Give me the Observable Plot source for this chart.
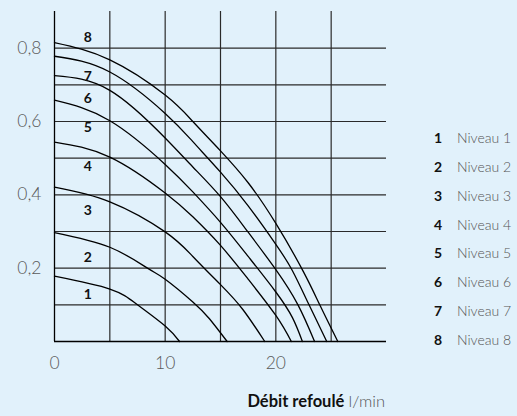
<!DOCTYPE html>
<html>
<head>
<meta charset="utf-8">
<script src="https://cdn.jsdelivr.net/npm/d3@7"></script>
<script src="https://cdn.jsdelivr.net/npm/@observablehq/plot@0.6"></script>
<style>
  html, body { margin: 0; padding: 0; background: #e1f1fb; }
  #wrap { position: relative; width: 517px; height: 416px; font-family: Lato, "Open Sans", sans-serif; }
  #xtitle { position: absolute; right: 132px; top: 391px; font-size: 16.5px; white-space: nowrap; }
  #xtitle b { font-weight: 700; color: #111; }
  #xtitle span { font-weight: 300; color: #555; }
  .leg { position: absolute; height: 18px; line-height: 18px; font-size: 14px; white-space: nowrap; }
  .leg .n { position: absolute; left: 0; width: 17px; text-align: right; font-weight: 700; color: #111; }
  .leg .t { position: absolute; left: 32px; color: #555; font-weight: 300; }
</style>
</head>
<body>
<div id="wrap"></div>
<script>
// Débit refoulé (l/min) and hauteur values
const debit1 = [0, 5, 7.5, 10, 11.3];
const haut1  = [0.178, 0.143, 0.100, 0.042, 0];
const debit2 = [0, 5, 8.4, 10, 12.5, 14, 15.6];
const haut2  = [0.297, 0.257, 0.200, 0.170, 0.108, 0.062, 0];
const debit3 = [0, 5, 10, 12.5, 15, 17, 19];
const haut3  = [0.421, 0.381, 0.299, 0.232, 0.155, 0.088, 0];
const debit4 = [0, 5, 10, 12.5, 15, 17.5, 20, 21.4];
const haut4  = [0.544, 0.503, 0.405, 0.340, 0.262, 0.170, 0.071, 0];
const debit5 = [0, 5, 10, 12.5, 15, 17.5, 20, 21.5, 22.4];
const haut5  = [0.658, 0.602, 0.483, 0.408, 0.325, 0.232, 0.135, 0.065, 0];
const debit6 = [0, 5, 10, 12.5, 15, 17.5, 20, 22, 23.5];
const haut6  = [0.725, 0.685, 0.555, 0.476, 0.395, 0.298, 0.196, 0.100, 0];
const debit7 = [0, 5, 10, 12.5, 15, 17.5, 20, 21.5, 23, 24.6];
const haut7  = [0.778, 0.735, 0.622, 0.545, 0.462, 0.370, 0.265, 0.193, 0.100, 0];
const debit8 = [0, 5, 10, 12.5, 15, 17.5, 20, 22.5, 24, 25.6];
const haut8  = [0.815, 0.768, 0.672, 0.600, 0.520, 0.433, 0.322, 0.190, 0.098, 0];

const levels = [1, 2, 3, 4, 5, 6, 7, 8];
const levelNames = ["Niveau 1", "Niveau 2", "Niveau 3", "Niveau 4", "Niveau 5", "Niveau 6", "Niveau 7", "Niveau 8"];
// curve number labels (data coordinates)
const labelX = [3, 3, 3, 3, 3, 3, 3, 3];
const labelY = [0.128, 0.229, 0.358, 0.476, 0.584, 0.663, 0.724, 0.828];

const xTicks = [0, 10, 20];
const yTicks = [0.2, 0.4, 0.6, 0.8];
const xGrid = [5, 10, 15, 20, 25];
const yGrid = [0.1, 0.2, 0.3, 0.4, 0.5, 0.6, 0.7, 0.8];

const debits = [debit1, debit2, debit3, debit4, debit5, debit6, debit7, debit8];
const hauts = [haut1, haut2, haut3, haut4, haut5, haut6, haut7, haut8];
const rows = levels.flatMap((lv, i) => debits[i].map((d, j) => ({niveau: lv, debit: d, hauteur: hauts[i][j]})));
const labels = levels.map((lv, i) => ({niveau: lv, x: labelX[i], y: labelY[i]}));

const chart = Plot.plot({
  width: 517,
  height: 416,
  marginLeft: 54,
  marginRight: 131,
  marginTop: 11,
  marginBottom: 75,
  x: {domain: [0, 30]},
  y: {domain: [0, 0.9]},
  style: {background: "transparent", fontFamily: "Lato, 'Open Sans', sans-serif", overflow: "visible"},
  marks: [
    Plot.ruleY(yGrid, {stroke: "#2a2a2a", strokeWidth: 1.2}),
    Plot.ruleX(xGrid, {stroke: "#2a2a2a", strokeWidth: 1.2}),
    Plot.ruleX([0], {stroke: "#000", strokeWidth: 1.3}),
    Plot.ruleY([0], {stroke: "#000", strokeWidth: 1.3}),
    Plot.line(rows, {x: "debit", y: "hauteur", z: "niveau", stroke: "#000", strokeWidth: 1.3, curve: "natural"}),
    Plot.text(labels, {x: "x", y: "y", text: d => String(d.niveau), fontSize: 14, fontWeight: 700, fill: "#111"}),
    Plot.axisY(yTicks, {tickSize: 0, tickPadding: 13, fontSize: 17.5, fill: "#5a5a5a", fontWeight: 300,
      tickFormat: d => d.toFixed(1).replace(".", ","), label: null}),
    Plot.axisX(xTicks, {tickSize: 0, tickPadding: 15, fontSize: 17.5, fill: "#5a5a5a", fontWeight: 300, label: null})
  ]
});

const wrap = document.getElementById("wrap");
chart.style.position = "absolute";
chart.style.left = "0";
chart.style.top = "0";
wrap.appendChild(chart);

const title = document.createElement("div");
title.id = "xtitle";
title.innerHTML = "<b>Débit refoulé</b> <span>l/min</span>";
wrap.appendChild(title);

levels.forEach((lv, i) => {
  const row = document.createElement("div");
  row.className = "leg";
  row.style.left = "425px";
  row.style.top = (129 + i * 28.86) + "px";
  row.innerHTML = `<span class="n">${lv}</span><span class="t">${levelNames[i]}</span>`;
  wrap.appendChild(row);
});
</script>
</body>
</html>
